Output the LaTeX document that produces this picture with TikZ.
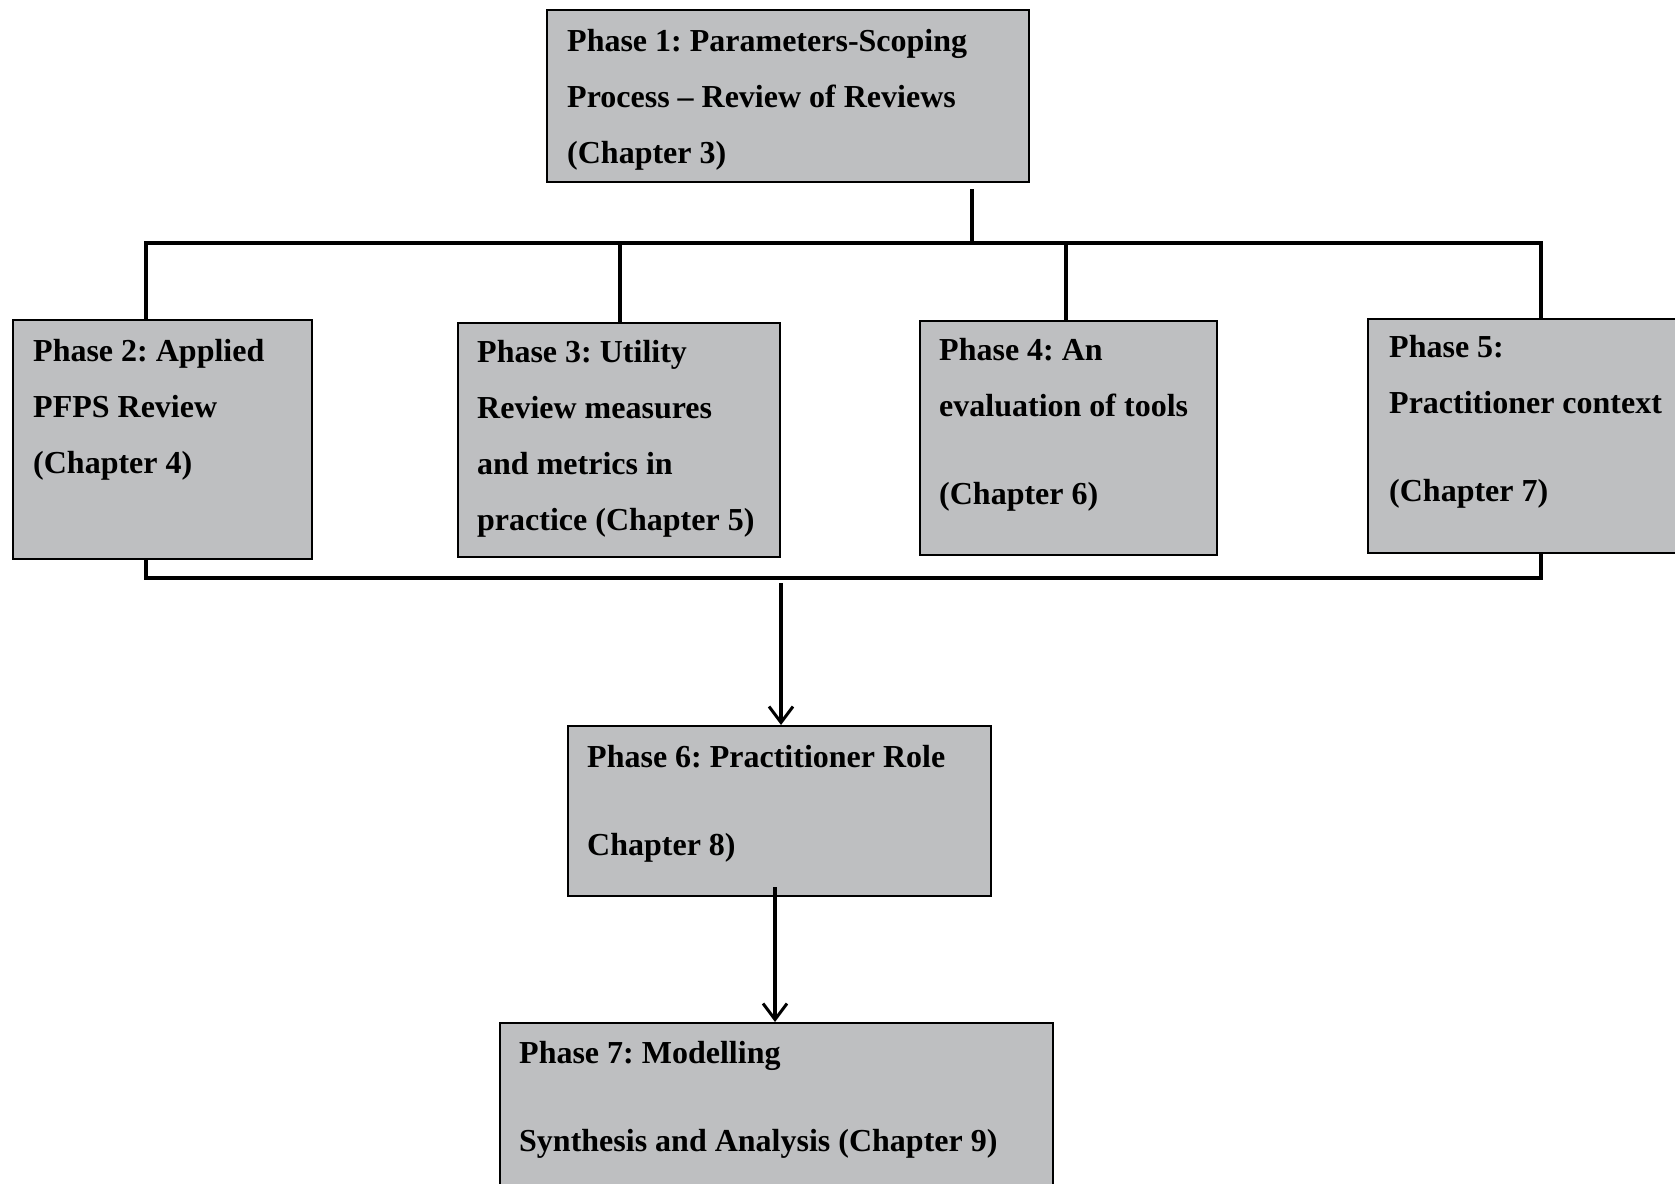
\documentclass[tikz,border=0pt]{standalone}
\usepackage{fontspec}
\setmainfont{Liberation Serif}
\usetikzlibrary{arrows.meta}
\definecolor{boxfill}{RGB}{190,191,193}
\begin{document}
\frenchspacing
\begin{tikzpicture}[x=1pt,y=-1pt,
  phase/.style={draw=black,line width=2.2pt,fill=boxfill,rectangle,inner sep=0pt,anchor=north west},
  % texts are placed by the baseline of their last line
  phasetext/.style={anchor=base west,align=left,inner sep=0pt,
    font=\fontsize{32}{56}\selectfont\bfseries},
  wire/.style={line width=3.5pt},
  flow/.style={line width=3.5pt,-{Straight Barb[length=16pt,width=24pt,line width=3pt]}}]
\useasboundingbox (0,0) rectangle (1675,1183);
\fill[white] (0,0) rectangle (1675,1183);

% phase boxes
\node[phase,minimum width=482pt,minimum height=172pt] (b1) at (546,9) {};
\node[phase,minimum width=299pt,minimum height=239pt] (b2) at (12,319) {};
\node[phase,minimum width=322pt,minimum height=234pt] (b3) at (457,322) {};
\node[phase,minimum width=297pt,minimum height=234pt] (b4) at (919,320) {};
\node[phase,minimum width=340pt,minimum height=234pt] (b5) at (1367,318) {};
\node[phase,minimum width=423pt,minimum height=170pt] (b6) at (567,725) {};
\node[phase,minimum width=553pt,minimum height=190pt] (b7) at (499,1022) {};

% box texts
\node[phasetext] (t1) at (567,163) {Phase 1: Parameters-Scoping\\Process -- Review of Reviews\\(Chapter 3)};
\node[phasetext] (t2) at (33,473) {Phase 2: Applied\\PFPS Review\\(Chapter 4)};
\node[phasetext] (t3) at (477,530) {Phase 3: Utility\\Review measures\\and metrics in\\practice (Chapter 5)};
\node[phasetext] (t4) at (939,504) {Phase 4: An\\evaluation of tools\\[32pt](Chapter 6)};
\node[phasetext] (t5) at (1389,501) {Phase 5:\\Practitioner context\\[32pt](Chapter 7)};
\node[phasetext] (t6) at (587,855) {Phase 6: Practitioner Role\\[32pt]Chapter 8)};
\node[phasetext] (t7) at (519,1151) {Phase 7: Modelling\\[32pt]Synthesis and Analysis (Chapter 9)};

% junction points of the connector buses
\coordinate (hub)  at (972,243);
\coordinate (busL) at (146,243);
\coordinate (busR) at (1541,243);
\coordinate (d3)   at (620,243);
\coordinate (d4)   at (1066,243);
\coordinate (lowL) at (146,578);
\coordinate (lowR) at (1541,578);
\coordinate (a1)   at (781,583);
\coordinate (a2)   at (775,887);

% upper bus from phase 1 to phases 2--5
\draw[wire] ([yshift=-6pt]b1.south -| hub) -- (hub);
\draw[wire] (busL |- b2.north) -- (busL) -- (busR) -- (busR |- b5.north);
\draw[wire] (d3) -- (d3 |- b3.north);
\draw[wire] (d4) -- (d4 |- b4.north);

% lower bus gathering phases 2--5
\draw[wire] (lowL |- b2.south) -- (lowL) -- (lowR) -- (lowR |- b5.south);

% arrows down to phases 6 and 7
\draw[flow] (a1) -- (a1 |- b6.north);
\draw[flow] (a2) -- (a2 |- b7.north);
\end{tikzpicture}
\end{document}
